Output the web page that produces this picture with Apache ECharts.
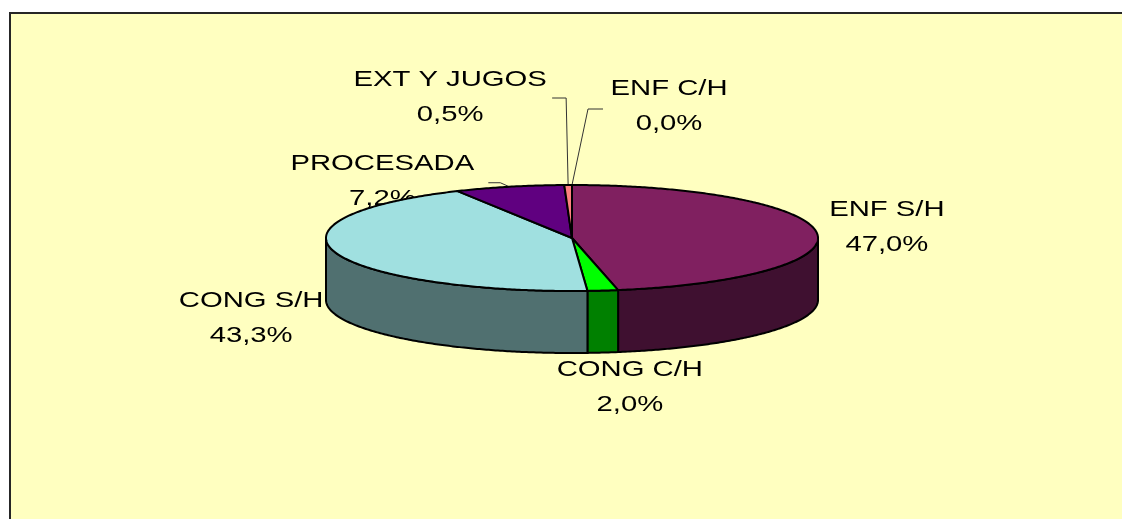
<!DOCTYPE html>
<html><head><meta charset="utf-8">
<script src="https://cdn.jsdelivr.net/npm/echarts@6/dist/echarts.min.js"></script>
<style>html,body{margin:0;padding:0;background:#fff;overflow:hidden}#c{width:1122px;height:519px}</style>
</head><body><div id="c"></div>
<script>
// ---- data ----
const categories = ['ENF S/H', 'CONG C/H', 'CONG S/H', 'PROCESADA', 'EXT Y JUGOS', 'ENF C/H'];
const values = [47.0, 2.0, 43.3, 7.2, 0.5, 0.0];

// ---- style / layout ----
const topColors  = ['#802060', '#00FF00', '#A0E0E0', '#600080', '#FF8080', '#0066CC'];
const sideColors = ['#3F1030', '#008000', '#507070', '#300040', '#804040', '#003366'];
const labelOffsets = [[70, -6], [27, 97], [-84, 66], [-127, -5], [-118, -88], [97, -79]];
const leaders = [null, null, null, [106, 1, 118], [102, 1, 116], [-66, 3, -81]];
const DEPTH = 62 / 53;

const total = values.reduce((a, b) => a + b, 0);
const starts = []; let acc = 0;
values.forEach(v => { starts.push(acc); acc += v; });
const TAU = Math.PI * 2;
const ang = p => p / total * TAU;
const fmt = v => (v / total * 100).toFixed(1).replace('.', ',') + '%';
function pt(api, t, h) { return api.coord([Math.sin(t), Math.cos(t) - h]); }
function arc(api, a, b, h) {
  const n = Math.max(2, Math.ceil(Math.abs(b - a) / 0.01));
  const out = [];
  for (let i = 0; i <= n; i++) { const t = a + (b - a) * i / n; out.push(pt(api, t, h)); }
  return out;
}
const lineStyle = { stroke: '#000', lineWidth: 2, lineJoin: 'round' };

function renderSide(params, api) {
  const i = params.dataIndex, v = api.value(1);
  const a = ang(starts[i]), b = ang(starts[i] + v);
  const lo = Math.max(a, Math.PI / 2), hi = Math.min(b, 1.5 * Math.PI);
  if (!(hi > lo)) return { type: 'group', children: [] };
  const pts = arc(api, lo, hi, 0).concat(arc(api, hi, lo, DEPTH));
  return { type: 'polygon', shape: { points: pts }, style: Object.assign({ fill: sideColors[i] }, lineStyle) };
}
function renderTop(params, api) {
  const i = params.dataIndex, v = api.value(1);
  const a = ang(starts[i]), b = ang(starts[i] + v);
  if (!(b > a)) return { type: 'group', children: [] };
  const pts = [api.coord([0, 0])].concat(arc(api, a, b, 0));
  return { type: 'polygon', shape: { points: pts }, style: Object.assign({ fill: topColors[i] }, lineStyle) };
}
function renderLabel(params, api) {
  const i = params.dataIndex, v = api.value(1);
  const mid = ang(starts[i] + v / 2);
  const anchor = pt(api, mid, 0);
  const off = labelOffsets[i];
  const cx = anchor[0] + off[0], cy = anchor[1] + off[1];
  const children = [{
    type: 'text', x: cx, y: cy, scaleX: 1.33,
    style: {
      text: categories[i] + '\n' + fmt(v), x: 0, y: 0,
      align: 'center', verticalAlign: 'middle', lineHeight: 35,
      font: '22px "Liberation Sans", Arial, sans-serif', fill: '#000'
    }
  }];
  const ld = leaders[i];
  if (ld) {
    children.push({
      type: 'polyline',
      shape: { points: [[cx + ld[0], cy + ld[1]], [cx + ld[2], cy + ld[1]], anchor] },
      style: { stroke: '#333', lineWidth: 1, fill: null }
    });
  }
  return { type: 'group', children };
}

const seriesData = values.map((v, i) => [i, v]);
const chart = echarts.init(document.getElementById('c'), null, { renderer: 'canvas' });
chart.setOption({
  animation: false,
  backgroundColor: '#fff',
  graphic: [
    { type: 'rect', z: -10, silent: true, shape: { x: 10, y: 13, width: 1200, height: 600 }, style: { fill: '#FFFFC0' } },
    { type: 'line', z: -9, silent: true, shape: { x1: 9, y1: 13, x2: 1200, y2: 13 }, style: { stroke: '#262626', lineWidth: 2 } },
    { type: 'line', z: -9, silent: true, shape: { x1: 10, y1: 12, x2: 10, y2: 600 }, style: { stroke: '#262626', lineWidth: 2 } }
  ],
  grid: { left: 326, top: 185, width: 492, height: 168 },
  xAxis: { type: 'value', min: -1, max: 1, show: false },
  yAxis: { type: 'value', min: -1 - DEPTH, max: 1, show: false },
  series: [
    { type: 'custom', name: 'labels', z: 1, clip: false, silent: true, renderItem: renderLabel, data: seriesData, encode: { x: -1, y: -1 } },
    { type: 'custom', name: 'side', z: 2, clip: false, silent: true, renderItem: renderSide, data: seriesData, encode: { x: -1, y: -1 } },
    { type: 'custom', name: 'top', z: 3, clip: false, silent: true, renderItem: renderTop, data: seriesData, encode: { x: -1, y: -1 } }
  ]
});
</script>
</body></html>
